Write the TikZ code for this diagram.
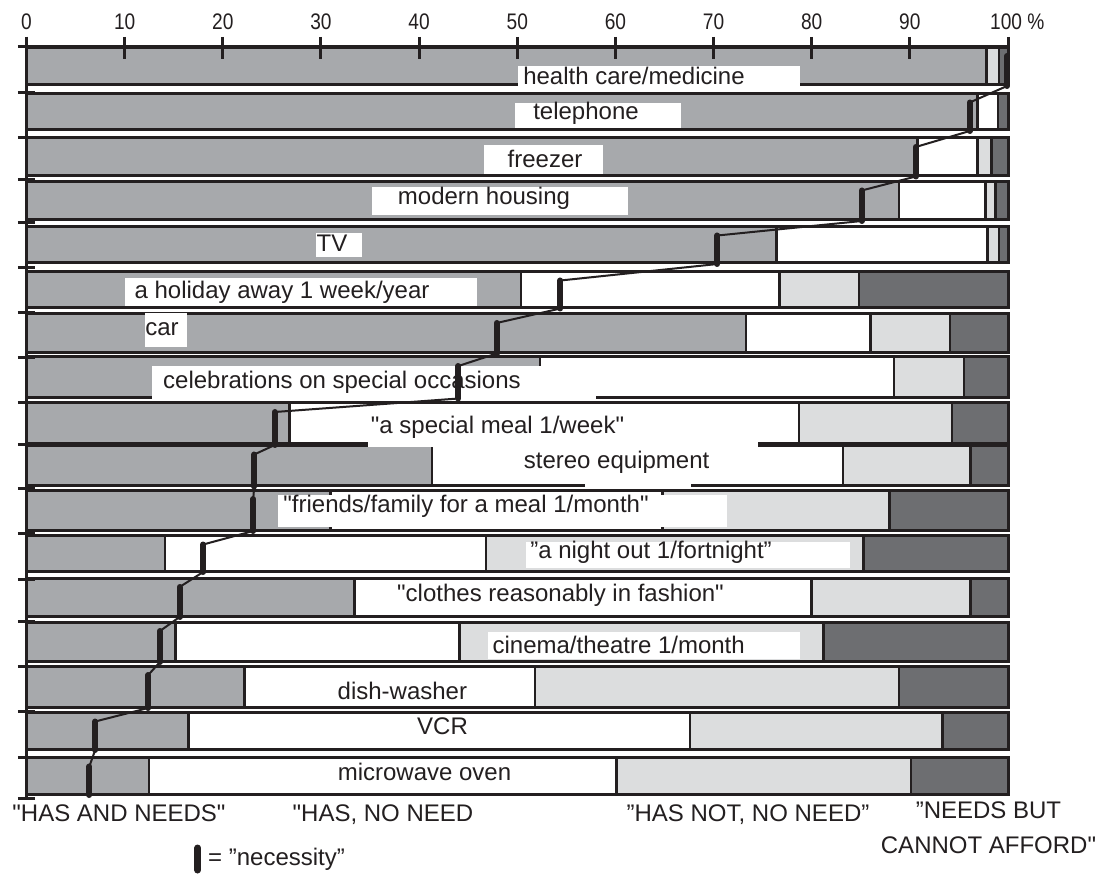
\documentclass[tikz,border=0pt]{standalone}
\usepackage{fontspec}
\setmainfont{Liberation Sans}
\newfontfamily\labfont{Liberation Sans}
\newfontfamily\narrowfont[FakeStretch=0.85]{Liberation Sans}
\definecolor{midgrey}{HTML}{A7A9AC}
\definecolor{lightgrey}{HTML}{DCDDDE}
\definecolor{darkgrey}{HTML}{6D6E71}
\definecolor{ink}{HTML}{231F20}
\tikzset{
  lbl/.style={font=\labfont\fontsize{24}{24}\selectfont, text=ink, inner sep=0pt, anchor=base},
  axnum/.style={font=\narrowfont\fontsize{22.5}{22.5}\selectfont, text=ink, inner sep=0pt, anchor=base},
  segline/.style={draw=ink, line width=2.6pt},
  barframe/.style={draw=ink, line width=3pt},
  axisline/.style={draw=ink, line width=3.4pt},
  needmark/.style={draw=ink, line width=6pt, line cap=round},
  needlink/.style={draw=ink, line width=2pt},
  labelbox/.style={fill=white},
}
\begin{document}
\begin{tikzpicture}[x=1pt,y=-1pt]
\useasboundingbox (0,0) rectangle (1098,874);
\fill[white] (0,0) rectangle (1098,874);
\begin{scope}[shift={(26.5,0)}, x=9.815pt]
\foreach \rt/\rb/\ga/\wa/\la/\ma [count=\i] in {
 47/85/97.8/97.8/99.1/99.9,
 93.5/130/96.9/99.0/99.0/96.1,
 138/175.5/90.8/96.9/98.3/90.6,
 181.5/220/88.9/97.7/98.7/85.1,
 226.5/263/76.4/97.9/99.1/70.4,
 271.5/307.5/50.4/76.7/84.8/54.4,
 314/352.5/73.3/86.0/94.1/47.9,
 357/397.5/52.3/88.4/95.5/44.0,
 403/444/26.8/78.7/94.3/25.3,
 445.5/485.5/41.3/83.2/96.2/23.2,
 490/530/31.0/64.8/87.9/23.1,
 535.5/571/14.1/46.8/85.3/18.0,
 578/616/33.4/80.0/96.2/15.6,
 622/661/15.2/44.1/81.2/13.6,
 666/707/22.2/51.8/88.9/12.4,
 712.5/749/16.5/67.6/93.3/7.0,
 757.5/794/12.5/60.1/90.1/6.4}{
  \fill[midgrey] (0,\rt) rectangle (\ga,\rb);
  \fill[white] (\ga,\rt) rectangle (\wa,\rb);
  \fill[lightgrey] (\wa,\rt) rectangle (\la,\rb);
  \fill[darkgrey] (\la,\rt) rectangle (100,\rb);
  \draw[segline] (\ga,\rt) -- (\ga,\rb) (\wa,\rt) -- (\wa,\rb) (\la,\rt) -- (\la,\rb);
  \draw[barframe] (0,\rt) rectangle (100,\rb);
  \pgfmathsetmacro\mtop{\rt+9}
  \pgfmathsetmacro\mbot{\rb+1}
  \coordinate (mt\i) at (\ma,\mtop);
  \coordinate (mb\i) at (\ma,\mbot);
}
% axes
\draw[axisline] (0,47) -- (100,47);
\draw[axisline] (0,37) -- (0,800);
\foreach \v in {0,10,...,100} \draw[axisline, line width=3pt] (\v,37) -- (\v,59);
\foreach \yy in {47,93,138,180,223,268,313,358,403,445,488,533,579,621,666,711,757,798}
  \draw[axisline, line width=3pt] (-0.87,\yy) -- (0.87,\yy);
\foreach \v in {0,10,...,90} \node[axnum] (ax\v) at (\v,30) {\v};
\end{scope}
\node[axnum, anchor=base west] (ax100) at (990,30) {100 \%};

% label boxes
\fill[labelbox] (518,66) rectangle (800,89);
\fill[labelbox] (515,103) rectangle (680.5,128);
\fill[labelbox] (484,145) rectangle (603,174);
\fill[labelbox] (372,187) rectangle (628,215);
\fill[labelbox] (315.7,233) rectangle (362,257);
\fill[labelbox] (124.5,278) rectangle (477,306);
\fill[labelbox] (145,313) rectangle (187,347);
\fill[labelbox] (152,366) rectangle (596,400);
\fill[labelbox] (368,415) rectangle (757.6,447);
\fill[labelbox] (585,455) rectangle (691,488);
\fill[labelbox] (278,495) rectangle (727,527);
\fill[labelbox] (526,541.7) rectangle (850,568);
\fill[labelbox] (487.5,631.7) rectangle (799.7,659);

% labels
\node[lbl] (lab1) at (634,85) {health care/medicine};
\node[lbl] (lab2) at (586,120) {telephone};
\node[lbl] (lab3) at (545,168) {freezer};
\node[lbl] (lab4) at (484,205) {modern housing};
\node[lbl] (lab5) at (332,252) {TV};
\node[lbl] (lab6) at (282,299) {a holiday away 1 week/year};
\node[lbl] (lab7) at (162,336) {car};
\node[lbl] (lab8) at (342,389) {celebrations on special occasions};
\node[lbl] (lab9) at (497.5,433.5) {"a special meal 1/week"};
\node[lbl] (lab10) at (616.6,468) {stereo equipment};
\node[lbl] (lab11) at (466,512) {"friends/family for a meal 1/month"};
\node[lbl] (lab12) at (651,558) {”a night out 1/fortnight”};
\node[lbl] (lab13) at (560.5,601) {"clothes reasonably in fashion"};
\node[lbl] (lab14) at (618.7,653) {cinema/theatre 1/month};
\node[lbl] (lab15) at (402.4,699) {dish-washer};
\node[lbl] (lab16) at (442.5,734) {VCR};
\node[lbl] (lab17) at (424.5,780) {microwave oven};

% necessity markers and links
\foreach \i [evaluate=\i as \j using int(\i+1)] in {1,...,16}
  \draw[needlink] (mb\i) -- (mt\j);
\foreach \i in {1,...,17}
  \draw[needmark] (mt\i) -- (mb\i);

% category labels
\node[lbl] (cat1) at (119,821.5) {"HAS AND NEEDS"};
\node[lbl] (cat2) at (383,821.5) {"HAS, NO NEED};
\node[lbl] (cat3) at (748,821.5) {”HAS NOT, NO NEED”};
\node[lbl] (cat4a) at (988.5,818) {”NEEDS BUT};
\node[lbl] (cat4b) at (988.5,853) {CANNOT AFFORD"};

% legend
\coordinate (lgA) at (197.7,848);
\coordinate (lgB) at (197.7,870);
\draw[needmark, line width=7pt] (lgA) -- (lgB);
\node[lbl, anchor=base west] (legtext) at (208,865) {= ”necessity”};
\end{tikzpicture}
\end{document}
